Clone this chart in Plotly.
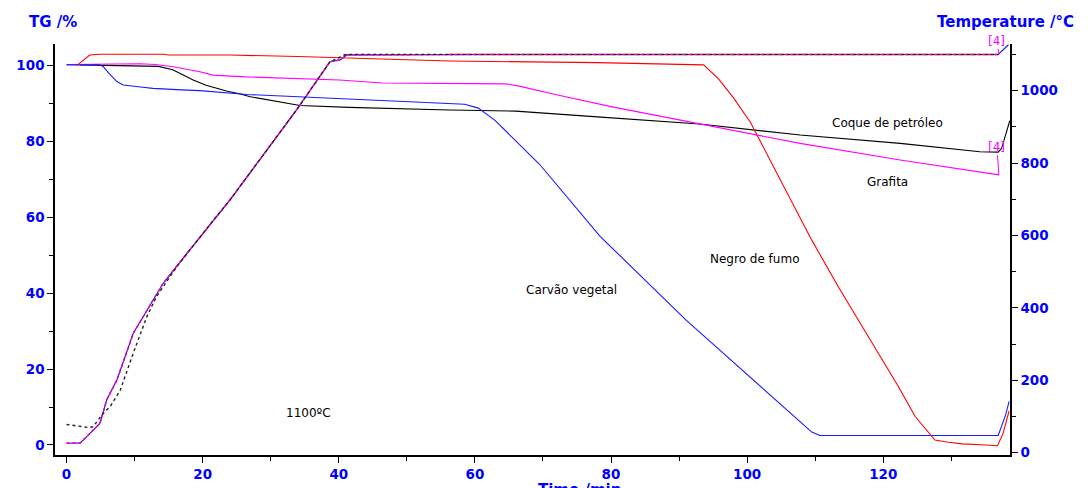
import plotly.graph_objects as go

# ---------------- data ----------------
# TG curves (left axis, %), time in min
carvao_t = [0, 4.9, 5.4, 6.3, 7.4, 8.3, 11.2, 12.7, 16.9, 19.6, 26.5, 38.7, 49, 56.3, 58.5,
            60.5, 63, 69.5, 78.4, 91, 101.7, 109.5, 110.7, 136.9, 138.0, 138.5]
carvao_tg = [100.2, 100.2, 99.7, 97.8, 95.8, 94.9, 94.3, 94.0, 93.6, 93.4, 92.4, 91.4, 90.5, 90.1, 89.8,
             88.8, 85.5, 74, 55, 33, 15.8, 3.4, 2.5, 2.5, 8.0, 11.5]

coque_t = [2, 12.5, 13.5, 15.6, 18.6, 20.5, 23.5, 25.4, 27, 34.3, 41.5, 56.3, 66, 78, 93,
           107.8, 122.5, 134.2, 136.9, 137.4, 138.6]
coque_tg = [100.2, 100.0, 99.8, 98.9, 96.2, 94.8, 93.3, 92.6, 91.8, 89.5, 89.0, 88.3, 88.0, 86.5, 84.6,
            81.7, 79.5, 77.3, 77.2, 78.2, 85.5]

grafita_t = [0, 10.8, 13, 15.7, 19.6, 21.5, 25.5, 40.1, 46.4, 53.8, 64.5, 66.5, 72, 80, 93,
             107.8, 122.5, 137.0]
grafita_tg = [100.3, 100.5, 100.3, 99.7, 98.4, 97.5, 97.1, 96.2, 95.4, 95.3, 95.2, 94.6, 92.3, 89.2, 84.6,
              79.5, 75.1, 71.2]

negro_t = [1.5, 3.4, 4.9, 14.2, 15, 24, 34, 41, 48.5, 56.2, 78, 93.6, 95.8, 98, 100.5, 105,
           109.5, 113.4, 118, 122.2, 124.7, 127.6, 129.6, 131.6, 135, 136.8, 137.6, 138.5]
negro_tg = [100, 102.8, 103, 103, 102.8, 102.8, 102.4, 102, 101.5, 101.2, 100.8, 100.2, 96.5, 91.5, 85, 69.5,
            54, 41.7, 28, 15.5, 7.5, 1.3, 0.7, 0.3, 0.0, -0.2, 3.0, 9.0]

# Temperature programme curves (right axis, degC)
temp_t = [0, 2.0, 3.0, 4.9, 5.9, 7.4, 9.8, 14.2, 18.1, 21.6, 24.0, 33.8, 38.7, 40.2, 41.2, 60, 100, 136.9]
temp_c = [26, 27, 45, 81, 146, 201, 330, 468, 560, 643, 698, 947, 1080, 1085, 1099, 1100, 1100, 1100]

temp_blue_t = temp_t + [138.4]
temp_blue_c = temp_c + [1127]

temp_black_t = [0, 3.4, 3.9, 5.4, 6.4, 7.9, 9.8, 11.8, 13.2, 16.2, 21.6, 24.0, 33.8, 38.7, 41.0, 60, 100, 136.9]
temp_black_c = [78, 69, 72, 109, 127, 173, 275, 376, 431, 514, 643, 698, 947, 1080, 1100, 1100, 1100, 1100]

# axis ticks
x_ticks = [0, 20, 40, 60, 80, 100, 120]
tg_ticks = [0, 20, 40, 60, 80, 100]
temp_ticks = [0, 200, 400, 600, 800, 1000]

# labels
curve_labels = ["Coque de petróleo", "Grafita", "Negro de fumo", "Carvão vegetal", "1100ºC"]
label_t = [120.7, 120.6, 101.1, 74.2, 35.6]
label_v = [85.0, 69.4, 49.0, 40.9, 8.4]

RED = "#ff0000"
BLUE = "#1a1aff"
MAG = "#ff00ff"
BLACK = "#000000"

fig = go.Figure()

# temperature curves (dashed)
fig.add_trace(go.Scatter(x=temp_blue_t, y=temp_blue_c, yaxis="y2", mode="lines",
                         line=dict(color=BLUE, width=1.2)))
fig.add_trace(go.Scatter(x=temp_t, y=temp_c, yaxis="y2", mode="lines",
                         line=dict(color=RED, width=1.4, dash="3px,3px")))
fig.add_trace(go.Scatter(x=temp_t, y=temp_c, yaxis="y2", mode="lines",
                         line=dict(color=MAG, width=1.4, dash="2px,4px")))
fig.add_trace(go.Scatter(x=temp_black_t, y=temp_black_c, yaxis="y2", mode="lines",
                         line=dict(color="#222222", width=1.4, dash="3px,3px")))

# TG curves
fig.add_trace(go.Scatter(x=coque_t, y=coque_tg, mode="lines", line=dict(color=BLACK, width=1.1)))
fig.add_trace(go.Scatter(x=grafita_t, y=grafita_tg, mode="lines", line=dict(color=MAG, width=1.1)))
fig.add_trace(go.Scatter(x=carvao_t, y=carvao_tg, mode="lines", line=dict(color=BLUE, width=1.1)))
fig.add_trace(go.Scatter(x=negro_t, y=negro_tg, mode="lines", line=dict(color=RED, width=1.1)))

tickfont = dict(family="DejaVu Sans", size=13.5, color="#0000ff", weight="bold")
common = dict(showline=True, linecolor=BLACK, linewidth=1.5, showgrid=False, zeroline=False,
              ticks="outside", ticklen=6, tickcolor=BLACK, tickwidth=1.2, tickfont=tickfont,
              automargin=False)

fig.update_layout(
    width=1088, height=488,
    margin=dict(l=55, r=78, t=44, b=33),
    plot_bgcolor="white", paper_bgcolor="white",
    showlegend=False,
    xaxis=dict(range=[-1.70, 138.63], tickmode="array", tickvals=x_ticks,
               minor=dict(dtick=10, tick0=0, ticks="outside", ticklen=4, tickcolor=BLACK, showgrid=False),
               **common),
    yaxis=dict(range=[-2.64, 105.7], tickmode="array", tickvals=tg_ticks,
               minor=dict(dtick=10, tick0=0, ticks="outside", ticklen=4, tickcolor=BLACK, showgrid=False),
               **common),
    yaxis2=dict(range=[-6.4, 1129], overlaying="y", side="right", tickmode="array", tickvals=temp_ticks,
                minor=dict(dtick=100, tick0=0, ticks="outside", ticklen=4, tickcolor=BLACK, showgrid=False),
                **common),
)

titlefont = dict(family="DejaVu Sans", size=15, color="#0000ff", weight="bold")
fig.add_annotation(text="TG /%", xref="paper", yref="paper", x=-0.0296, y=1.054,
                   xanchor="left", yanchor="middle", showarrow=False, font=titlefont)
fig.add_annotation(text="Temperature /°C", xref="paper", yref="paper", x=0.9215, y=1.054,
                   xanchor="left", yanchor="middle", showarrow=False, font=titlefont)
fig.add_annotation(text="Time /min", xref="paper", yref="paper", x=0.5487, y=-0.058,
                   xanchor="center", yanchor="top", showarrow=False, font=titlefont)

labfont = dict(family="DejaVu Sans", size=12, color=BLACK)
for txt, lt, lv in zip(curve_labels, label_t, label_v):
    fig.add_annotation(text=txt, x=lt, y=lv, xref="x", yref="y", showarrow=False, font=labfont)

# [4] markers
mfont = dict(family="DejaVu Sans", size=12, color=MAG)
fig.add_annotation(text="[4]", x=137.0, y=1100, xref="x", yref="y2", showarrow=True, arrowhead=0,
                   arrowcolor=MAG, arrowwidth=1, ax=-2, ay=-14, font=mfont)
fig.add_annotation(text="[4]", x=137.0, y=71.2, xref="x", yref="y", showarrow=True, arrowhead=0,
                   arrowcolor=MAG, arrowwidth=1, ax=-2, ay=-28, font=mfont)

fig.write_html("out.html", config={"displayModeBar": False},
               post_script="document.body.style.margin='0px';")
